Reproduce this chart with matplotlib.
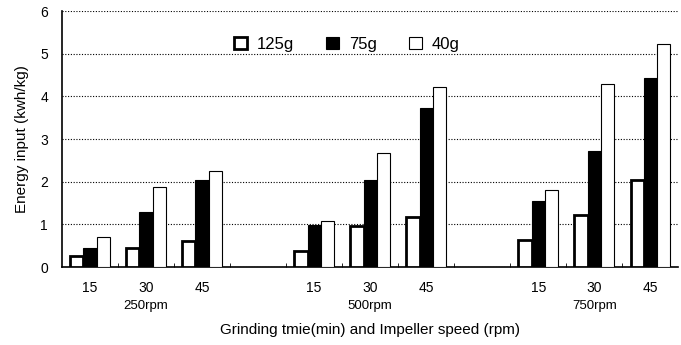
import numpy as np
import matplotlib.pyplot as plt

# grinding time per speed, and the speed groups
times = ['15', '30', '45']
speeds = ['250rpm', '500rpm', '750rpm']
series = ['125g', '75g', '40g']

# energy input (kwh/kg), 3 times per speed
e_125g = [0.25, 0.45, 0.60, 0.38, 0.97, 1.17, 0.63, 1.23, 2.05]
e_75g = [0.45, 1.28, 2.05, 0.98, 2.03, 3.72, 1.55, 2.73, 4.42]
e_40g = [0.70, 1.88, 2.25, 1.07, 2.67, 4.22, 1.80, 4.28, 5.22]

plt.rcParams['font.family'] = ['Liberation Sans', 'DejaVu Sans']

fig = plt.figure(figsize=(6.81, 3.45), dpi=100)
ax = fig.add_axes([0.091, 0.226, 0.905, 0.742])

# slots: 3 per speed, an empty slot between speeds
x = np.array([g * 4 + t for g in range(len(speeds)) for t in range(len(times))])
w = 0.235

ax.bar(x - w, e_125g, w, color='white', edgecolor='black', linewidth=2.0, label=series[0], zorder=3)
ax.bar(x, e_75g, w, color='black', edgecolor='black', linewidth=0.8, label=series[1], zorder=3)
ax.bar(x + w, e_40g, w, color='white', edgecolor='black', linewidth=0.8, label=series[2], zorder=3)

ax.set_xlim(-0.5, 10.5)
ax.set_ylim(0, 6)
ax.set_yticks(range(7))
ax.yaxis.grid(True, linestyle=(0, (1, 1.5)), color='black', linewidth=0.8)
ax.set_axisbelow(True)
ax.tick_params(axis='y', length=0, labelsize=10, pad=10)

ax.set_xticks(x)
ax.set_xticklabels(times * len(speeds), fontsize=10)
ax.tick_params(axis='x', which='major', length=0, pad=10)
ax.set_xticks(np.arange(0.5, 10.5, 1), minor=True)
ax.tick_params(axis='x', which='minor', direction='in', length=3)

for g, s in enumerate(speeds):
    ax.text(g * 4 + 1, -0.78, s, ha='center', va='top', fontsize=9.5)

ax.spines['top'].set_visible(False)
ax.spines['right'].set_visible(False)
ax.spines['left'].set_linewidth(1.2)
ax.spines['bottom'].set_linewidth(1.2)

ax.set_ylabel('Energy input (kwh/kg)', fontsize=11, labelpad=8)
ax.set_xlabel('Grinding tmie(min) and Impeller speed (rpm)', fontsize=11, labelpad=20)

ax.legend(loc='center', bbox_to_anchor=(0.462, 0.87), ncol=3, frameon=False,
          fontsize=12, handlelength=0.8, handleheight=0.8, columnspacing=1.9,
          handletextpad=0.6)

fig.savefig('out.png', dpi=100)
